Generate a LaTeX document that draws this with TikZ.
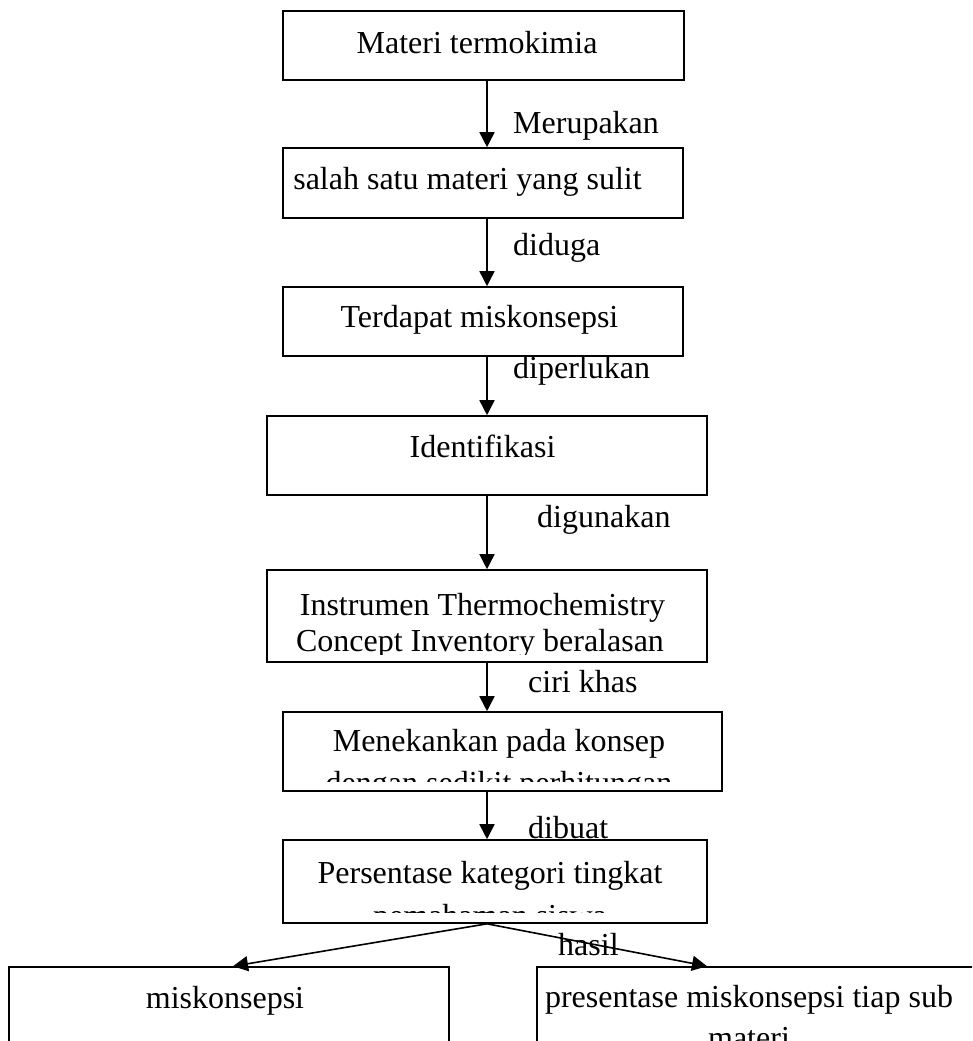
\documentclass[tikz,border=0pt]{standalone}
\usepackage{fontspec}
\setmainfont{Liberation Serif}
\usetikzlibrary{arrows.meta,calc}
\tikzset{
  box/.style={draw, line width=1.6pt, inner sep=0pt, rectangle},
  txt/.style={inner sep=0pt, anchor=base, font=\fontsize{32}{37}\selectfont},
  lbl/.style={inner sep=0pt, anchor=base west, font=\fontsize{32}{37}\selectfont},
  arr/.style={line width=1.6pt, -{Triangle[width=15pt,length=15pt]}}
}
\begin{document}
\begin{tikzpicture}[x=1pt,y=-1pt]
\useasboundingbox (0,0) rectangle (972,1041);
\clip (0,0) rectangle (972,1041);
\coordinate (axis) at (487,0);
% boxes
\node[box, minimum width=401pt, minimum height=69pt] (b1) at (483.5,45.5) {};
\node[box, minimum width=400pt, minimum height=70pt] (b2) at (483,183) {};
\node[box, minimum width=400pt, minimum height=69pt] (b3) at (483,321.5) {};
\node[box, minimum width=440pt, minimum height=79pt] (b4) at (487,455.5) {};
\node[box, minimum width=440pt, minimum height=92pt] (b5) at (487,616) {};
\node[box, minimum width=439pt, minimum height=79pt] (b6) at (502.5,751.5) {};
\node[box, minimum width=424pt, minimum height=83pt] (b7) at (495,881.5) {};
\node[box, minimum width=440pt, minimum height=100pt] (b8) at (229,1017) {};
\node[box, minimum width=470pt, minimum height=100pt] (b9) at (772,1017) {};
% box texts
\node[txt] (t1) at (477,53) {Materi termokimia};
\node[txt] (t2) at (467.5,189) {salah satu materi yang sulit};
\node[txt] (t3) at (479.5,327) {Terdapat miskonsepsi};
\node[txt] (t4) at (482.5,457) {Identifikasi};
\node[txt] (t5a) at (482.5,615) {Instrumen Thermochemistry};
\begin{scope}
  \clip (268,571) rectangle (706,654);
  \node[txt] (t5b) at (480,651) {Concept Inventory beralasan};
\end{scope}
\node[txt] (t6a) at (499,751) {Menekankan pada konsep};
\begin{scope}
  \clip (284,713) rectangle (721,781);
  \node[txt] (t6b) at (499,793) {dengan sedikit perhitungan};
\end{scope}
\node[txt] (t7a) at (490,883) {Persentase kategori tingkat};
\begin{scope}
  \clip (284,841) rectangle (706,912);
  \node[txt] (t7b) at (490,926) {pemahaman siswa};
\end{scope}
\node[txt] (t8) at (225,1008) {miskonsepsi};
\node[txt] (t9a) at (749,1007) {presentase miskonsepsi tiap sub};
\node[txt] (t9b) at (749,1048) {materi};
% labels
\node[lbl] (l1) at (513,133) {Merupakan};
\node[lbl] (l2) at (513,255) {diduga};
\node[lbl] (l3) at (513,378) {diperlukan};
\node[lbl] (l4) at (537,527) {digunakan};
\node[lbl] (l5) at (528,692) {ciri khas};
\node[lbl] (l6) at (528,838) {dibuat};
\node[lbl] (l7) at (558,955) {hasil};
% arrows
\draw[arr] (b1.south -| axis) -- (b2.north -| axis);
\draw[arr] (b2.south -| axis) -- (b3.north -| axis);
\draw[arr] (b3.south -| axis) -- (b4.north -| axis);
\draw[arr] (b4.south -| axis) -- (b5.north -| axis);
\draw[arr] (b5.south -| axis) -- (b6.north -| axis);
\draw[arr] (b6.south -| axis) -- (b7.north -| axis);
\coordinate (split) at (b7.south -| axis);
\coordinate (lx) at (233,0);
\coordinate (rx) at (707,0);
\draw[arr] (split) -- (b8.north -| lx);
\draw[arr] (split) -- (b9.north -| rx);
\end{tikzpicture}
\end{document}
